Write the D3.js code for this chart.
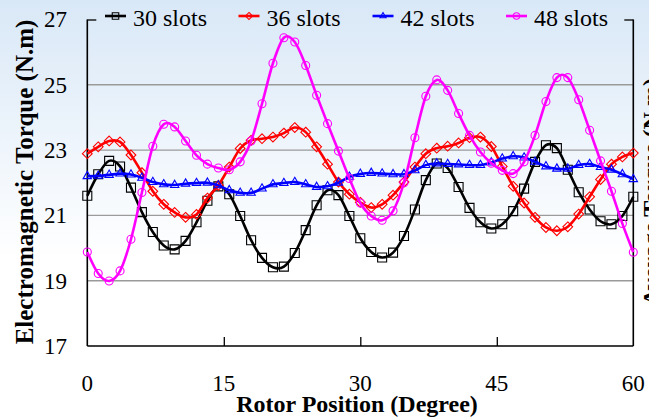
<!DOCTYPE html>
<meta charset="utf-8">
<style>
body { margin: 0; }
svg { display: block; }
</style>
<svg id="chart" width="649" height="419"></svg>
<script src="https://cdnjs.cloudflare.com/ajax/libs/d3/7.8.5/d3.min.js"></script>
<script>

// rotor position (degree), one marker every 1.2 degree
var positions = [0, 1.2, 2.4, 3.6, 4.8, 6, 7.2, 8.4, 9.6, 10.8, 12, 13.2, 14.4, 15.6, 16.8, 18, 19.2, 20.4, 21.6, 22.8,
  24, 25.2, 26.4, 27.6, 28.8, 30, 31.2, 32.4, 33.6, 34.8, 36, 37.2, 38.4, 39.6, 40.8, 42, 43.2, 44.4, 45.6, 46.8,
  48, 49.2, 50.4, 51.6, 52.8, 54, 55.2, 56.4, 57.6, 58.8, 60];

var torque30 = [21.60, 22.26, 22.67, 22.50, 21.85, 21.10, 20.49, 20.08, 19.96, 20.22, 20.79, 21.45, 21.89, 21.65, 20.98, 20.24, 19.70, 19.41, 19.43, 19.85,
  20.55, 21.31, 21.77, 21.62, 20.98, 20.30, 19.88, 19.71, 19.86, 20.37, 21.18, 22.08, 22.59, 22.45, 21.87, 21.23, 20.79, 20.60, 20.73, 21.13,
  21.82, 22.64, 23.15, 23.06, 22.40, 21.71, 21.18, 20.82, 20.73, 20.98, 21.57];

var torque36 = [22.89, 23.10, 23.28, 23.25, 22.85, 22.31, 21.74, 21.34, 21.09, 20.94, 21.03, 21.53, 21.92, 22.48, 23.05, 23.30, 23.35, 23.40, 23.52, 23.69,
  23.55, 23.10, 22.57, 22.02, 21.65, 21.40, 21.24, 21.34, 21.62, 22.02, 22.48, 22.89, 23.06, 23.12, 23.22, 23.38, 23.40, 23.11, 22.50, 21.89,
  21.38, 20.94, 20.63, 20.53, 20.65, 21.04, 21.57, 22.10, 22.57, 22.79, 22.91];

var torque42 = [22.20, 22.21, 22.24, 22.28, 22.25, 22.15, 22.02, 21.95, 21.93, 21.97, 21.99, 22.00, 21.92, 21.77, 21.69, 21.69, 21.82, 21.95, 21.99, 22.02,
  21.95, 21.87, 21.89, 22.00, 22.18, 22.27, 22.30, 22.28, 22.26, 22.26, 22.38, 22.54, 22.59, 22.57, 22.56, 22.54, 22.54, 22.62, 22.74, 22.81,
  22.77, 22.64, 22.50, 22.43, 22.43, 22.54, 22.57, 22.48, 22.40, 22.26, 22.11];

var torque48 = [19.88, 19.22, 18.99, 19.30, 20.27, 21.70, 23.12, 23.79, 23.71, 23.28, 22.84, 22.57, 22.45, 22.40, 22.64, 23.28, 24.42, 25.66, 26.44, 26.31,
  25.59, 24.68, 23.81, 22.97, 22.13, 21.38, 20.98, 20.85, 21.14, 22.00, 23.38, 24.65, 25.15, 24.83, 24.12, 23.45, 22.94, 22.60, 22.38, 22.28,
  22.64, 23.45, 24.49, 25.22, 25.22, 24.54, 23.61, 22.67, 21.74, 20.75, 19.87];

var seriesNames = ["30 slots", "36 slots", "42 slots", "48 slots"];
var xTicks = [0, 15, 30, 45, 60];
var yTicks = [17, 19, 21, 23, 25, 27];
var gridValues = [19, 21, 23, 25];

var series = [
  { name: seriesNames[0], values: torque30, color: "#000000", marker: "square" },
  { name: seriesNames[1], values: torque36, color: "#ff0000", marker: "diamond" },
  { name: seriesNames[2], values: torque42, color: "#0000ff", marker: "triangle" },
  { name: seriesNames[3], values: torque48, color: "#ff00ff", marker: "circle" }
];

var serif = "'Liberation Serif'";
var svg = d3.select("#chart");
var W = 649, H = 419;

// background gradient
var grad = svg.append("defs").append("linearGradient")
    .attr("id", "bg").attr("x1", 0).attr("y1", 0).attr("x2", 0).attr("y2", 1);
grad.append("stop").attr("offset", "0%").attr("stop-color", "#d9e8f7");
grad.append("stop").attr("offset", "62%").attr("stop-color", "#ffffff");
grad.append("stop").attr("offset", "100%").attr("stop-color", "#ffffff");
svg.append("rect").attr("width", W).attr("height", H).attr("fill", "url(#bg)");

var x = d3.scaleLinear().domain([0, 60]).range([87.3, 633.3]);
var y = d3.scaleLinear().domain([17, 27]).range([346, 19.5]);

// gridlines
svg.append("g").selectAll("line")
  .data(gridValues)
  .enter().append("line")
    .attr("x1", x(0)).attr("x2", x(60))
    .attr("y1", function(d) { return y(d); })
    .attr("y2", function(d) { return y(d); })
    .attr("stroke", "#9a9a9a")
    .attr("stroke-width", 1.4);

// axes (ticks inward)
svg.append("g")
    .attr("transform", "translate(0," + y(17) + ")")
    .call(d3.axisTop(x).tickValues([15, 30, 45]).tickSize(9).tickFormat(""))
    .call(function(g) { g.select(".domain").remove(); })
    .selectAll("line").attr("stroke-width", 1.3);

svg.append("g")
    .attr("transform", "translate(" + x(0) + ",0)")
    .call(d3.axisRight(y).tickValues([27]).tickSize(9).tickFormat(""))
    .call(function(g) { g.select(".domain").remove(); })
    .selectAll("line").attr("stroke-width", 1.3);

svg.append("g")
    .attr("transform", "translate(" + x(60) + ",0)")
    .call(d3.axisLeft(y).tickValues([27]).tickSize(9).tickFormat(""))
    .call(function(g) { g.select(".domain").remove(); })
    .selectAll("line").attr("stroke-width", 1.3);

var frame = svg.append("g").attr("stroke", "#000").attr("stroke-width", 1.6).attr("fill", "none");
frame.append("line").attr("x1", x(0)).attr("x2", x(0)).attr("y1", y(27)).attr("y2", y(17));
frame.append("line").attr("x1", x(60)).attr("x2", x(60)).attr("y1", y(27)).attr("y2", y(17));
frame.append("line").attr("x1", x(0)).attr("x2", x(60)).attr("y1", y(17)).attr("y2", y(17));

// tick labels
svg.append("g").selectAll("text")
  .data(yTicks)
  .enter().append("text")
    .style("font-family", serif).style("font-size", "23px")
    .attr("x", 67)
    .attr("y", function(d) { return y(d); })
    .attr("dy", "0.34em")
    .attr("text-anchor", "end")
    .text(function(d) { return d; });

svg.append("g").selectAll("text")
  .data(xTicks)
  .enter().append("text")
    .style("font-family", serif).style("font-size", "23px")
    .attr("x", function(d) { return x(d); })
    .attr("y", 391)
    .attr("text-anchor", "middle")
    .text(function(d) { return d; });

// axis titles
svg.append("text")
    .style("font-family", serif).style("font-size", "24px").style("font-weight", "bold")
    .attr("x", 357).attr("y", 412)
    .attr("text-anchor", "middle")
    .text("Rotor Position (Degree)");

svg.append("text")
    .style("font-family", serif).style("font-size", "25px").style("font-weight", "bold")
    .attr("transform", "translate(33,182) rotate(-90)")
    .attr("text-anchor", "middle")
    .text("Electromagnetic Torque (N.m)");

svg.append("text")
    .style("font-family", serif).style("font-size", "24px").style("font-weight", "bold")
    .attr("transform", "translate(659,192) rotate(-90)")
    .attr("text-anchor", "middle")
    .text("Average Torque (N.m)");

// markers
function drawMarker(sel, type, size) {
  if (type === "circle") {
    sel.append("circle").attr("r", size / 2);
  } else {
    var sym = type === "square" ? d3.symbolSquare : type === "diamond" ? d3.symbolDiamond2 : d3.symbolTriangle2;
    var area = type === "square" ? size * size : type === "diamond" ? size * size * 0.75 : size * size * 0.62;
    sel.append("path").attr("d", d3.symbol(sym, area)());
  }
}

var line = d3.line()
    .x(function(d) { return x(d[0]); })
    .y(function(d) { return y(d[1]); })
    .curve(d3.curveCatmullRom.alpha(0));

var sizes = { square: 9, diamond: 9, triangle: 9, circle: 8 };

series.forEach(function(s) {
  var pts = positions.map(function(p, i) { return [p, s.values[i]]; });
  var g = svg.append("g");
  g.append("path")
      .datum(pts)
      .attr("d", line)
      .attr("fill", "none")
      .attr("stroke", s.color)
      .attr("stroke-width", 2.6);
  g.selectAll("g.mk")
    .data(pts)
    .enter().append("g")
      .attr("class", "mk")
      .attr("transform", function(d) { return "translate(" + x(d[0]) + "," + y(d[1]) + ")"; })
      .attr("fill", "none")
      .attr("stroke", s.color)
      .attr("stroke-width", 1.1)
      .each(function() { drawMarker(d3.select(this), s.marker, sizes[s.marker]); });
});

// legend
var legendX = [105, 238.5, 372.5, 506];
var legend = svg.append("g").selectAll("g")
  .data(series)
  .enter().append("g")
    .attr("transform", function(d, i) { return "translate(" + legendX[i] + ",16)"; });

legend.append("line")
    .attr("x1", 0).attr("x2", 21)
    .attr("stroke", function(d) { return d.color; })
    .attr("stroke-width", 2.6);
legend.append("g")
    .attr("transform", "translate(10.5,0)")
    .attr("fill", "none")
    .attr("stroke", function(d) { return d.color; })
    .attr("stroke-width", 1.1)
    .each(function(d) { drawMarker(d3.select(this), d.marker, 6.5); });
legend.append("text")
    .style("font-family", serif).style("font-size", "24px")
    .attr("x", 28).attr("y", 10)
    .text(function(d) { return d.name; });

</script>
